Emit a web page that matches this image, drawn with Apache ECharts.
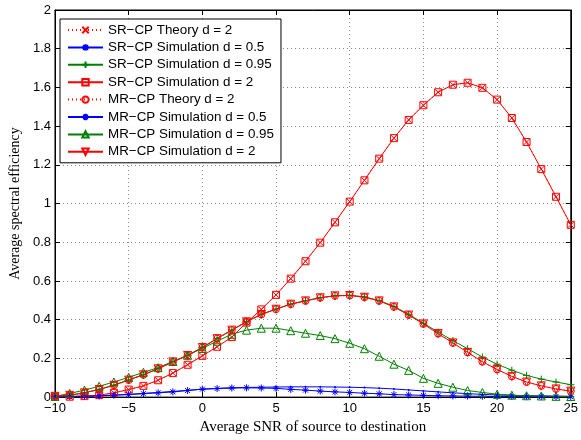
<!DOCTYPE html>
<html>
<head>
<meta charset="utf-8">
<script src="https://cdn.jsdelivr.net/npm/echarts@6/dist/echarts.min.js"></script>
<style>html,body{margin:0;padding:0;background:#fff}#c{width:581px;height:440px}</style>
</head>
<body>
<div id="c"></div>
<script>
const snr = [-10,-9,-8,-7,-6,-5,-4,-3,-2,-1,0,1,2,3,4,5,6,7,8,9,10,11,12,13,14,15,16,17,18,19,20,21,22,23,24,25];

const srTheoryD2 = [0.002,0.002,0.005,0.010,0.022,0.039,0.058,0.087,0.124,0.167,0.213,0.260,0.310,0.385,0.453,0.528,0.612,0.702,0.798,0.903,1.010,1.120,1.232,1.338,1.432,1.508,1.575,1.614,1.624,1.598,1.537,1.442,1.318,1.178,1.035,0.890];
const srSimD05 = [0.002,0.003,0.005,0.007,0.010,0.014,0.019,0.024,0.029,0.035,0.041,0.045,0.048,0.050,0.051,0.052,0.053,0.053,0.053,0.052,0.051,0.049,0.046,0.042,0.037,0.032,0.027,0.022,0.018,0.014,0.011,0.009,0.007,0.006,0.005,0.004];
const srSimD095 = [0.004,0.010,0.023,0.040,0.062,0.089,0.116,0.147,0.183,0.216,0.257,0.303,0.347,0.390,0.428,0.455,0.481,0.498,0.514,0.524,0.526,0.518,0.499,0.469,0.428,0.382,0.336,0.292,0.250,0.207,0.170,0.139,0.112,0.093,0.078,0.064];
const srSimD2 = [0.002,0.002,0.005,0.010,0.022,0.039,0.058,0.087,0.124,0.167,0.213,0.260,0.310,0.385,0.453,0.528,0.612,0.702,0.798,0.903,1.010,1.120,1.232,1.338,1.432,1.508,1.575,1.614,1.624,1.598,1.537,1.442,1.318,1.178,1.035,0.890];
const mrTheoryD2 = [0.004,0.009,0.022,0.039,0.061,0.088,0.115,0.146,0.182,0.215,0.256,0.302,0.346,0.389,0.427,0.454,0.480,0.497,0.513,0.523,0.525,0.516,0.497,0.466,0.424,0.378,0.328,0.280,0.231,0.183,0.143,0.107,0.078,0.058,0.042,0.031];
const mrSimD05 = [0.002,0.003,0.005,0.006,0.010,0.013,0.018,0.022,0.027,0.034,0.041,0.044,0.047,0.048,0.047,0.045,0.040,0.036,0.031,0.027,0.024,0.020,0.017,0.013,0.011,0.009,0.007,0.006,0.005,0.004,0.003,0.003,0.002,0.002,0.002,0.002];
const mrSimD095 = [0.004,0.019,0.036,0.056,0.078,0.102,0.128,0.152,0.184,0.216,0.252,0.289,0.325,0.346,0.356,0.356,0.343,0.330,0.318,0.302,0.278,0.250,0.211,0.170,0.138,0.097,0.071,0.051,0.034,0.024,0.015,0.010,0.007,0.006,0.004,0.003];
const mrSimD2 = [0.004,0.009,0.022,0.039,0.061,0.088,0.115,0.146,0.182,0.215,0.256,0.302,0.346,0.389,0.427,0.454,0.480,0.497,0.513,0.523,0.525,0.516,0.497,0.466,0.424,0.378,0.328,0.280,0.231,0.183,0.143,0.107,0.078,0.058,0.042,0.031];

const names = [
  'SR\u2212CP Theory d = 2',
  'SR\u2212CP Simulation d = 0.5',
  'SR\u2212CP Simulation d = 0.95',
  'SR\u2212CP Simulation d = 2',
  'MR\u2212CP Theory d = 2',
  'MR\u2212CP Simulation d = 0.5',
  'MR\u2212CP Simulation d = 0.95',
  'MR\u2212CP Simulation d = 2'
];
const xTicks = [-10,-5,0,5,10,15,20,25];

const RED = '#ff0000', BLUE = '#0000ff', GREEN = '#008000';
const SYM = {
  x: 'path://M0,0L10,10M10,0L0,10',
  plus: 'path://M5,0L5,10M0,5L10,5',
  star: 'path://M5,0L5,10M0,5L10,5M1.5,1.5L8.5,8.5M8.5,1.5L1.5,8.5',
  rect: 'path://M0,0L10,0L10,10L0,10Z',
  circle: 'path://M5,0A5,5,0,1,1,5,10A5,5,0,1,1,5,0Z',
  tri: 'path://M5,0L10,9L0,9Z',
  dot: 'circle'
};

function mk(name, data, color, sym, size, dashed, rotate) {
  return {
    name: name,
    type: 'line',
    data: snr.map((x, i) => [x, data[i]]),
    symbol: sym,
    symbolSize: size,
    symbolRotate: rotate || 0,
    showAllSymbol: true,
    animation: false,
    lineStyle: { color: color, width: 1, type: dashed ? [1, 3] : 'solid' },
    itemStyle: sym === 'circle'
      ? { color: color, borderColor: color, borderWidth: 0 }
      : { color: 'none', borderColor: color, borderWidth: 1 },
    emphasis: { disabled: true }
  };
}

const series = [
  mk(names[0], srTheoryD2, RED, SYM.x, 6, true),
  mk(names[1], srSimD05, BLUE, SYM.dot, 2, false),
  mk(names[2], srSimD095, GREEN, SYM.plus, 7, false),
  mk(names[3], srSimD2, RED, SYM.rect, 7, false),
  mk(names[4], mrTheoryD2, RED, SYM.circle, 7, true),
  mk(names[5], mrSimD05, BLUE, SYM.star, 7, false),
  mk(names[6], mrSimD095, GREEN, SYM.tri, 8, false),
  mk(names[7], mrSimD2, RED, SYM.tri, 8, false, 180)
];

const chart = echarts.init(document.getElementById('c'), null, { renderer: 'canvas' });
const gridLine = { show: true, lineStyle: { color: '#888', type: [1, 3], width: 1 } };
chart.setOption({
  backgroundColor: '#fff',
  animation: false,
  grid: { left: 53, right: 5, top: 10, bottom: 39, show: true, borderColor: '#000', borderWidth: 1, backgroundColor: 'transparent' },
  legend: {
    orient: 'vertical',
    left: 60,
    top: 19,
    data: names,
    itemWidth: 35,
    itemHeight: 8,
    itemGap: 3.4,
    padding: [4, 7, 4, 7],
    backgroundColor: '#fff',
    borderColor: '#000',
    borderWidth: 1,
    selectedMode: false,
    textStyle: { fontFamily: 'Liberation Sans, Arial, sans-serif', fontSize: 13.4, color: '#000', lineHeight: 14 }
  },
  xAxis: [
    {
      type: 'value', min: -10, max: 25, interval: 5,
      name: 'Average SNR of source to destination',
      nameLocation: 'middle', nameGap: 19,
      nameTextStyle: { fontFamily: 'Liberation Serif, Times New Roman, serif', fontSize: 15, color: '#000', verticalAlign: 'top' },
      axisLine: { show: true, onZero: false, lineStyle: { color: '#000', width: 1 } },
      axisTick: { show: true, inside: true, length: 5, lineStyle: { color: '#000' } },
      axisLabel: { margin: 5, fontFamily: 'Liberation Sans, Arial, sans-serif', fontSize: 13, color: '#000',
        formatter: v => String(v).replace('-', '\u2212') },
      splitLine: gridLine
    },
    {
      type: 'value', min: -10, max: 25, interval: 5, position: 'top',
      axisLine: { show: true, onZero: false, lineStyle: { color: '#000', width: 1 } },
      axisTick: { show: true, inside: true, length: 5, lineStyle: { color: '#000' } },
      axisLabel: { show: false }, splitLine: { show: false }
    }
  ],
  yAxis: [
    {
      type: 'value', min: 0, max: 2, interval: 0.2,
      name: 'Average spectral efficiency',
      nameLocation: 'middle', nameGap: 28, nameRotate: 90,
      nameTextStyle: { fontFamily: 'Liberation Serif, Times New Roman, serif', fontSize: 14, color: '#000' },
      axisLine: { show: true, onZero: false, lineStyle: { color: '#000', width: 1 } },
      axisTick: { show: true, inside: true, length: 5, lineStyle: { color: '#000' } },
      axisLabel: { margin: 4, fontFamily: 'Liberation Sans, Arial, sans-serif', fontSize: 13, color: '#000',
        formatter: v => String(Math.round(v * 10) / 10) },
      splitLine: gridLine
    },
    {
      type: 'value', min: 0, max: 2, interval: 0.2, position: 'right',
      axisLine: { show: true, onZero: false, lineStyle: { color: '#000', width: 1 } },
      axisTick: { show: true, inside: true, length: 5, lineStyle: { color: '#000' } },
      axisLabel: { show: false }, splitLine: { show: false }
    }
  ],
  series: series
});
</script>
</body>
</html>
